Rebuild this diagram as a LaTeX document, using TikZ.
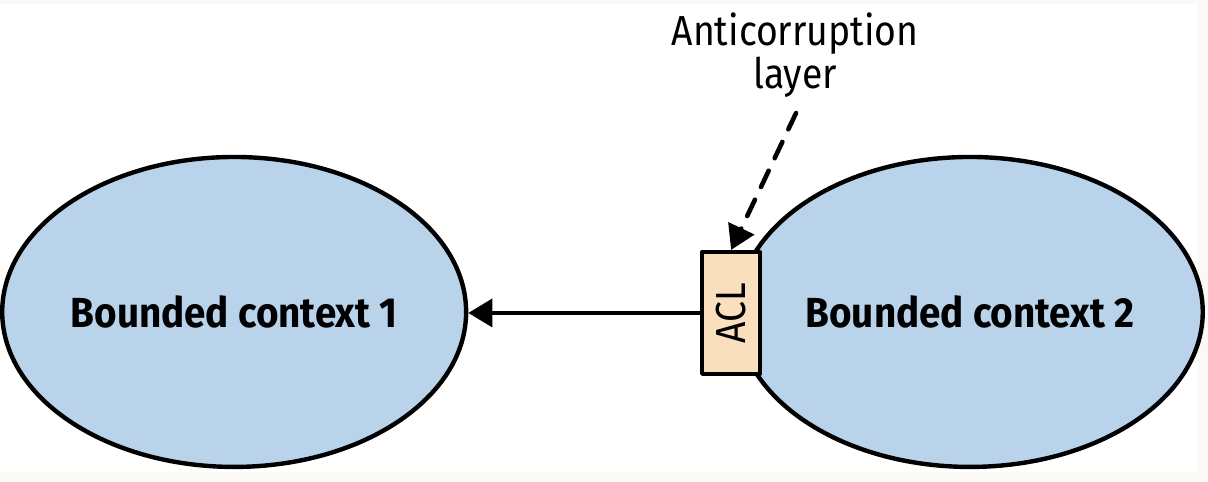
\documentclass[tikz,border=0pt]{standalone}
\usepackage{fontspec}
\usetikzlibrary{shapes.geometric,arrows.meta}
\newfontfamily\ctxfont{Fira Sans}[FakeStretch=0.92]
\newfontfamily\notefont{Fira Sans}[FakeStretch=0.89]
\definecolor{ctxblue}{HTML}{B8D3EA}
\definecolor{aclpeach}{HTML}{F9DFBD}
\definecolor{pageedge}{HTML}{FAF9F5}
\begin{document}
\begin{tikzpicture}[
  x=0.5pt, y=-0.5pt,
  line cap=round,
  line join=round,
  context/.style={ellipse, draw, line width=2.2pt, fill=ctxblue,
    inner sep=0pt, font=\ctxfont\bfseries\fontsize{21}{24}\selectfont},
  aclbox/.style={draw, line width=2pt, fill=aclpeach, inner sep=0pt,
    minimum width=29pt, minimum height=61pt},
  link/.style={line width=1.8pt, -{Triangle[length=12pt,width=14pt]}}
]
  % Фон
  \fill[pageedge] (0,0) rectangle (1208,482);
  \fill[white] (0,4) rectangle (1198,472);

  % Контексты
  \node[context, minimum width=232pt, minimum height=155pt]
    (bc1) at (234,312) {Bounded context 1};
  \node[context, minimum width=225pt, minimum height=155pt]
    (bc2) at (970,312) {Bounded context 2};

  % Слой ACL
  \node[aclbox] (acl) at (731,313)
    {\rotatebox{90}{\notefont\fontsize{21}{24}\selectfont ACL}};

  % Подпись
  \node[align=center, font=\notefont\fontsize{21}{20}\selectfont]
    (label) at (795,55) {Anticorruption\\layer};
  \coordinate (tail) at (796,113);

  % Стрелки
  \draw[link] (acl.west) -- (acl.west -| bc1.east);
  \draw[link, line width=2.3pt, dash pattern=on 9pt off 7pt]
    (tail) -- (acl.north);
\end{tikzpicture}
\end{document}
